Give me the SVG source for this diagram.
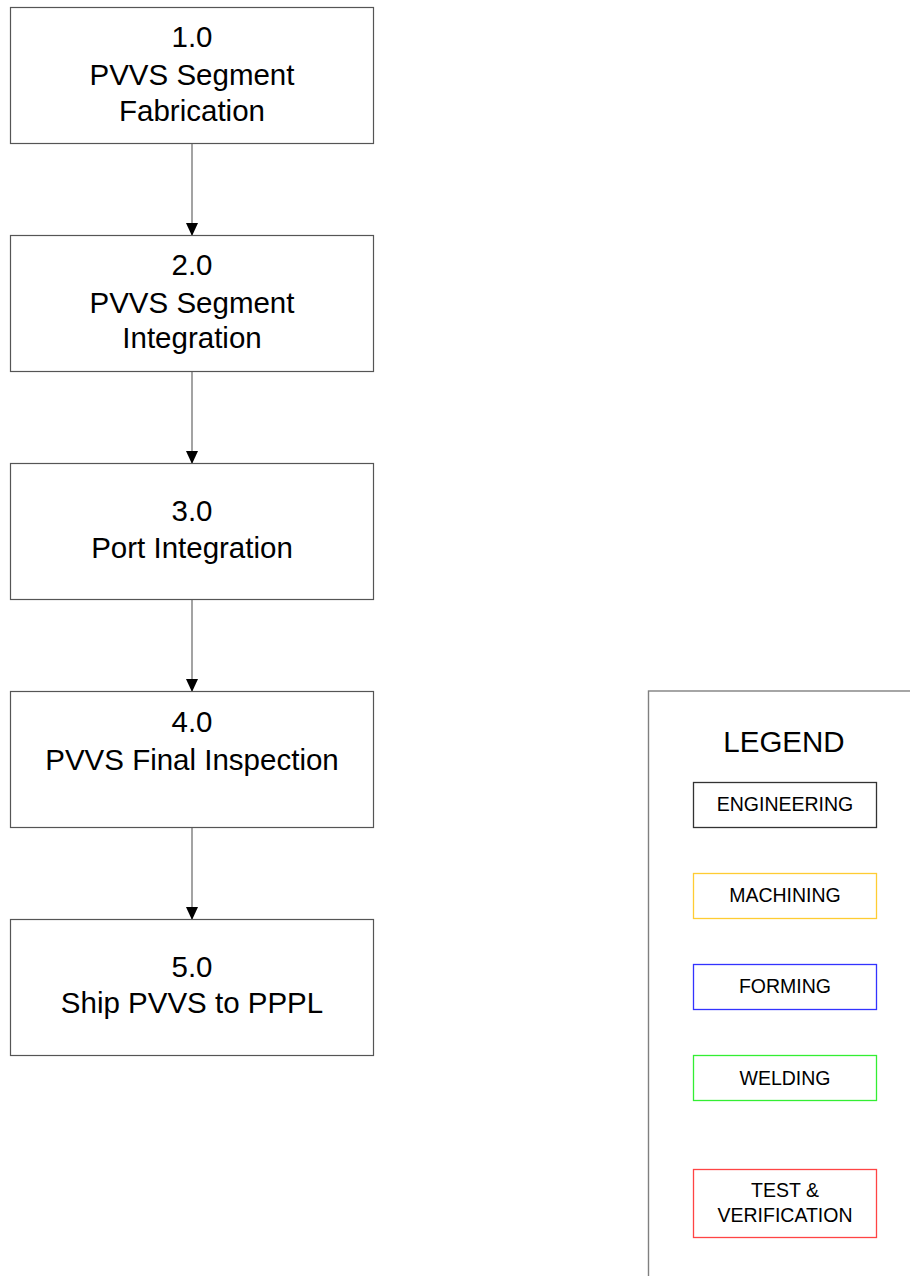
<svg xmlns="http://www.w3.org/2000/svg" width="910" height="1276" viewBox="0 0 910 1276">
<style>
.box{fill:#fff;stroke:#555;stroke-width:1.2}
.t{font-family:"Liberation Sans",Arial,sans-serif;font-size:29.5px;fill:#000;text-anchor:middle}
.lt{font-family:"Liberation Sans",Arial,sans-serif;font-size:19.5px;fill:#000;text-anchor:middle}
.conn{stroke:#666;stroke-width:1.2;fill:none}
.lb{fill:#fff;stroke-width:1.3}
</style>
<defs>
<marker id="ah" markerWidth="13" markerHeight="14" refX="13" refY="6.5" orient="auto" markerUnits="userSpaceOnUse" viewBox="0 0 14 13">
<path d="M0,0 L14,6.5 L0,13 Z" fill="#000"/>
</marker>
</defs>
<rect width="910" height="1276" fill="#fff"/>
<g id="connectors">
<line class="conn" x1="192" y1="143.5" x2="192" y2="235" marker-end="url(#ah)"/>
<line class="conn" x1="192" y1="371.5" x2="192" y2="463" marker-end="url(#ah)"/>
<line class="conn" x1="192" y1="599.5" x2="192" y2="691" marker-end="url(#ah)"/>
<line class="conn" x1="192" y1="827.5" x2="192" y2="919" marker-end="url(#ah)"/>
</g>
<g id="n1">
<rect class="box" x="10.5" y="7.5" width="363" height="136"/>
<text class="t" x="192" y="47">1.0</text>
<text class="t" x="192" y="85">PVVS Segment</text>
<text class="t" x="192" y="121">Fabrication</text>
</g>
<g id="n2">
<rect class="box" x="10.5" y="235.5" width="363" height="136"/>
<text class="t" x="192" y="275">2.0</text>
<text class="t" x="192" y="313">PVVS Segment</text>
<text class="t" x="192" y="348">Integration</text>
</g>
<g id="n3">
<rect class="box" x="10.5" y="463.5" width="363" height="136"/>
<text class="t" x="192" y="521">3.0</text>
<text class="t" x="192" y="558">Port Integration</text>
</g>
<g id="n4">
<rect class="box" x="10.5" y="691.5" width="363" height="136"/>
<text class="t" x="192" y="732">4.0</text>
<text class="t" x="192" y="770">PVVS Final Inspection</text>
</g>
<g id="n5">
<rect class="box" x="10.5" y="919.5" width="363" height="136"/>
<text class="t" x="192" y="977">5.0</text>
<text class="t" x="192" y="1013">Ship PVVS to PPPL</text>
</g>
<g id="legend">
<rect x="648.5" y="691" width="300" height="700" fill="#fff" stroke="#808080" stroke-width="1.4"/>
<text class="t" x="784" y="752">LEGEND</text>
<g id="leg-engineering">
<rect class="lb" x="693.5" y="782.5" width="183" height="45" stroke="#333"/>
<text class="lt" x="785" y="811">ENGINEERING</text>
</g>
<g id="leg-machining">
<rect class="lb" x="693.5" y="873.5" width="183" height="45" stroke="#FFCC33"/>
<text class="lt" x="785" y="902">MACHINING</text>
</g>
<g id="leg-forming">
<rect class="lb" x="693.5" y="964.5" width="183" height="45" stroke="#3333FF"/>
<text class="lt" x="785" y="993">FORMING</text>
</g>
<g id="leg-welding">
<rect class="lb" x="693.5" y="1055.5" width="183" height="45" stroke="#33EE33"/>
<text class="lt" x="785" y="1085">WELDING</text>
</g>
<g id="leg-test">
<rect class="lb" x="693.5" y="1169.5" width="183" height="68" stroke="#FF4444"/>
<text class="lt" x="785" y="1197">TEST &amp;</text>
<text class="lt" x="785" y="1222">VERIFICATION</text>
</g>
</g>
</svg>
